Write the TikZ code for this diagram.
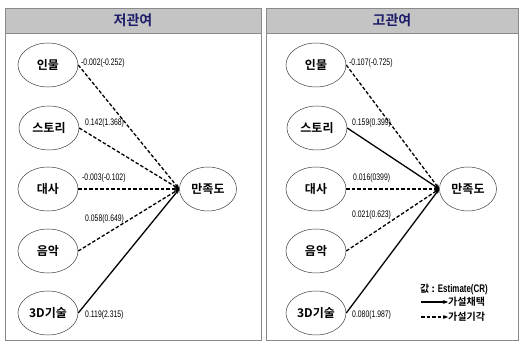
\documentclass[tikz,border=0pt]{standalone}
\usepackage{fontspec}
\setmainfont{Liberation Sans}
\newfontfamily\kr{Noto Sans CJK KR}[BoldFont={* Bold}]
\newfontfamily\narrow[FakeStretch=0.72]{Liberation Sans}
\usetikzlibrary{shapes.geometric,arrows.meta}
\definecolor{hdrgray}{HTML}{C4C4C4}
\definecolor{bordgray}{HTML}{8A8A8A}
\definecolor{navy}{HTML}{1C1C6A}
\begin{document}
\begin{tikzpicture}[x=1pt,y=-1pt,
  var/.style={ellipse,draw=black!75,line width=0.5pt,minimum width=60pt,minimum height=44pt,inner sep=0pt,font=\kr\bfseries\fontsize{12}{13}\selectfont},
  coef/.style={anchor=west,inner sep=0pt,font=\narrow\fontsize{9.5}{10}\selectfont},
  acc/.style={line width=1.3pt,-{Stealth[length=5pt,width=4pt]}},
  rej/.style={line width=1.3pt,dash pattern=on 3.5pt off 2pt,-{Stealth[length=5pt,width=4pt]}},
  panel/.style={draw=bordgray,line width=0.8pt,fill=white},
  hdr/.style={draw=bordgray,line width=0.8pt,fill=hdrgray},
  hdrtext/.style={font=\kr\bfseries\fontsize{14}{16}\selectfont,text=navy},
  lgtext/.style={anchor=west,inner sep=0pt,font=\kr\bfseries\fontsize{10}{11}\selectfont}
]
\useasboundingbox (0,0) rectangle (520,344);
\fill[white] (0,0) rectangle (520,344);
% panels
\draw[panel] (5,8) rectangle (261,340);
\draw[hdr] (5,8) rectangle (261,33);
\node[hdrtext] (h1) at (133,20.5) {저관여};
\draw[panel] (266,8) rectangle (518,340);
\draw[hdr] (266,8) rectangle (518,33);
\node[hdrtext] (h2) at (392,20.5) {고관여};
% left panel
\node[var] (a1) at (48,65) {인물};
\node[var] (a2) at (49,128) {스토리};
\node[var] (a3) at (48,189) {대사};
\node[var] (a4) at (48,251) {음악};
\node[var] (a5) at (48,313) {3D기술};
\node[var,minimum width=57pt] (ay) at (208,189) {만족도};
\draw[rej] (a1.east) -- (ay.west);
\draw[rej] (a2.east) -- (ay.west);
\draw[rej] (a3.east) -- (ay.west);
\draw[rej] (a4.east) -- (ay.west);
\draw[acc] (a5.east) -- (ay.west);
\node[coef] (la1) at (81,63) {-0.002(-0.252)};
\node[coef] (la2) at (85,123) {0.142(1.368)};
\node[coef] (la3) at (82,178.5) {-0.003(-0.102)};
\node[coef] (la4) at (85,219) {0.058(0.649)};
\node[coef] (la5) at (85,315) {0.119(2.315)};
% right panel
\node[var] (b1) at (316,65) {인물};
\node[var] (b2) at (317,128) {스토리};
\node[var] (b3) at (316,189) {대사};
\node[var] (b4) at (316,251) {음악};
\node[var] (b5) at (316,313) {3D기술};
\node[var,minimum width=57pt] (by) at (468,189) {만족도};
\draw[rej] (b1.east) -- (by.west);
\draw[acc] (b2.east) -- (by.west);
\draw[rej] (b3.east) -- (by.west);
\draw[rej] (b4.east) -- (by.west);
\draw[acc] (b5.east) -- (by.west);
\node[coef] (lb1) at (349,63) {-0.107(-0.725)};
\node[coef] (lb2) at (352,123) {0.159(0.399)};
\node[coef] (lb3) at (353,178.5) {0.016(0399)};
\node[coef] (lb4) at (352,215) {0.021(0.623)};
\node[coef] (lb5) at (352,315) {0.080(1.987)};
% legend
\node[lgtext] (lg) at (420,289) {값 : {\narrow\fontsize{11}{12}\selectfont Estimate(CR)}};
\coordinate (s1) at (421,302);
\node[lgtext] (t1) at (448,302) {가설채택};
\draw[line width=1.2pt,-{Stealth[length=5pt,width=4pt]}] (s1) -- (t1.west);
\coordinate (s2) at (421,317);
\node[lgtext] (t2) at (448,317) {가설기각};
\draw[line width=1.2pt,dash pattern=on 3.5pt off 2pt,-{Stealth[length=5pt,width=4pt]}] (s2) -- (t2.west);
\end{tikzpicture}
\end{document}
